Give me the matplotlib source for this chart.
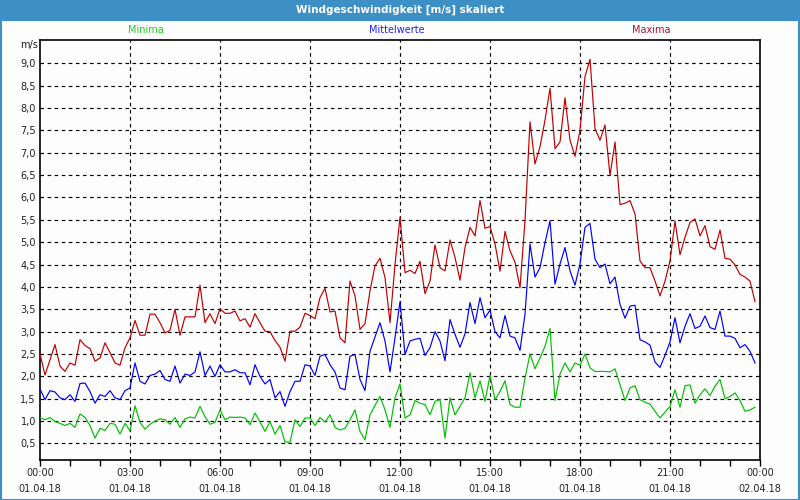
import numpy as np
import matplotlib
matplotlib.use("Agg")
import matplotlib.pyplot as plt
from matplotlib.patches import Rectangle
from matplotlib.ticker import FixedLocator

title = "Windgeschwindigkeit [m/s] skaliert"
series_names = ["Minima", "Mittelwerte", "Maxima"]
tick_hours = [0, 3, 6, 9, 12, 15, 18, 21, 24]
tick_times = ["00:00", "03:00", "06:00", "09:00", "12:00", "15:00", "18:00", "21:00", "00:00"]
tick_dates = ["01.04.18"] * 8 + ["02.04.18"]
y_ticks = [0.5, 1.0, 1.5, 2.0, 2.5, 3.0, 3.5, 4.0, 4.5, 5.0, 5.5, 6.0, 6.5, 7.0, 7.5, 8.0, 8.5, 9.0]

# 10-minute values, 00:00 .. 23:50
maxima = [2.5, 2.03, 2.37, 2.71, 2.23, 2.11, 2.3, 2.25, 2.82, 2.69, 2.62, 2.34, 2.41, 2.75, 2.53, 2.3, 2.25, 2.64,
          2.86, 3.25, 2.92, 2.92, 3.39, 3.39, 3.2, 2.97, 3.03, 3.5, 2.92, 3.33, 3.33, 3.33, 4.04, 3.2, 3.4, 3.18,
          3.51, 3.41, 3.41, 3.46, 3.24, 3.29, 3.1, 3.4, 3.2, 3.01, 3.0, 2.8, 2.65, 2.34, 3.01, 3.01, 3.1, 3.41,
          3.36, 3.29, 3.76, 3.97, 3.44, 3.46, 2.86, 2.75, 4.13, 3.8, 3.05, 3.18, 3.91, 4.47, 4.64, 4.21, 3.2, 4.5,
          5.56, 4.32, 4.37, 4.3, 4.57, 3.85, 4.13, 4.94, 4.43, 4.36, 5.05, 4.66, 4.15, 4.88, 5.33, 5.14, 5.93, 5.31,
          5.35, 4.96, 4.35, 5.24, 4.81, 4.55, 3.98, 5.48, 7.69, 6.75, 7.13, 7.73, 8.44, 7.09, 7.24, 8.23, 7.28, 6.92,
          7.5, 8.7, 9.09, 7.54, 7.28, 7.62, 6.49, 7.24, 5.84, 5.87, 5.93, 5.63, 4.58, 4.43, 4.43, 4.13, 3.8, 4.13,
          4.58, 5.47, 4.72, 5.11, 5.44, 5.52, 5.14, 5.37, 4.9, 4.84, 5.27, 4.64, 4.62, 4.49, 4.28, 4.22, 4.13, 3.67]
mittel = [1.72, 1.48, 1.68, 1.65, 1.52, 1.48, 1.59, 1.44, 1.84, 1.85, 1.66, 1.4, 1.59, 1.55, 1.68, 1.52, 1.48, 1.68,
          1.74, 2.3, 1.89, 1.83, 2.02, 2.05, 2.13, 1.93, 1.89, 2.23, 1.85, 2.05, 2.02, 2.1, 2.55, 2.02, 2.23, 2.0,
          2.26, 2.1, 2.1, 2.15, 2.08, 2.08, 1.81, 2.26, 2.0, 1.83, 1.93, 1.52, 1.66, 1.33, 1.66, 1.89, 1.89, 2.26,
          2.23, 2.02, 2.45, 2.49, 2.26, 2.1, 1.74, 1.7, 2.45, 2.49, 1.93, 1.68, 2.56, 2.88, 3.2, 2.79, 2.1, 2.86,
          3.67, 2.49, 2.79, 2.83, 2.85, 2.47, 2.64, 3.0, 2.79, 2.35, 3.27, 2.94, 2.65, 2.95, 3.65, 3.18, 3.76, 3.31,
          3.48, 3.0, 2.86, 3.36, 2.9, 2.86, 2.58, 3.39, 4.96, 4.22, 4.43, 4.99, 5.48, 4.06, 4.51, 4.88, 4.36, 4.04,
          4.51, 5.33, 5.42, 4.62, 4.43, 4.51, 4.07, 4.22, 3.61, 3.3, 3.57, 3.59, 2.82, 2.77, 2.7, 2.32, 2.2, 2.47,
          2.77, 3.31, 2.75, 3.12, 3.4, 3.07, 3.12, 3.35, 3.09, 3.05, 3.46, 2.9, 2.9, 2.85, 2.64, 2.71, 2.56, 2.3]
minima = [1.07, 1.03, 1.08, 0.99, 0.95, 0.9, 0.95, 0.86, 1.16, 1.08, 0.9, 0.62, 0.84, 0.79, 0.95, 0.93, 0.71, 0.95,
          0.78, 1.34, 0.97, 0.82, 0.93, 1.0, 1.05, 1.03, 0.93, 1.08, 0.86, 1.05, 1.09, 1.07, 1.33, 1.1, 0.93, 0.97,
          1.25, 1.03, 1.09, 1.08, 1.09, 1.07, 0.92, 1.18, 0.98, 0.77, 0.99, 0.71, 0.9, 0.53, 0.53, 1.03, 0.88, 1.07,
          1.07, 0.9, 1.08, 0.98, 1.14, 0.86, 0.8, 0.84, 1.03, 1.25, 0.77, 0.58, 1.14, 1.35, 1.55, 1.25, 0.86, 1.52,
          1.83, 1.07, 1.14, 1.46, 1.4, 1.37, 1.14, 1.44, 1.48, 0.62, 1.52, 1.14, 1.33, 1.52, 2.08, 1.52, 1.9, 1.44,
          2.02, 1.48, 1.66, 1.9, 1.37, 1.31, 1.31, 1.96, 2.5, 2.17, 2.41, 2.67, 3.07, 1.46, 2.05, 2.3, 2.1, 2.3,
          2.25, 2.5, 2.19, 2.11, 2.11, 2.11, 2.1, 2.17, 1.81, 1.46, 1.74, 1.79, 1.48, 1.42, 1.38, 1.22, 1.07, 1.2,
          1.33, 1.7, 1.31, 1.79, 1.81, 1.4, 1.59, 1.72, 1.57, 1.78, 1.93, 1.5, 1.55, 1.63, 1.46, 1.22, 1.25, 1.31]

hours = np.arange(len(maxima)) / 6.0

plt.rcParams['font.family'] = ['DejaVu Sans']
fig = plt.figure(figsize=(8, 5), dpi=100)
fig.patch.set_facecolor('#fdfdfd')

border = '#3c90c6'
# title bar
fig.patches.append(Rectangle((0, 1 - 21 / 500), 1, 21 / 500, transform=fig.transFigure,
                             facecolor=border, edgecolor='none', zorder=0))
# outer border
fig.patches.append(Rectangle((0.5 / 800, 0.5 / 500), 1 - 1.5 / 800, 1 - 1.5 / 500, transform=fig.transFigure,
                             facecolor='none', edgecolor=border, linewidth=1.5, zorder=1))
fig.text(0.5, 1 - 10 / 500, title, color='white', fontsize=7.5, fontweight='bold',
         ha='center', va='center')

ax = fig.add_axes([40 / 800, 40 / 500, 720 / 800, 420 / 500])
ax.set_facecolor('#fdfdfd')
ax.plot(hours, minima, color='#00c000', lw=0.85, zorder=3)
ax.plot(hours, mittel, color='#0000ff', lw=0.85, zorder=3)
ax.plot(hours, maxima, color='#c00000', lw=0.85, zorder=3)

ax.set_xlim(0, 24)
ax.set_ylim(0.13, 9.52)

ax.set_yticks(y_ticks)
ax.set_yticklabels([f"{v:.1f}".replace('.', ',') for v in y_ticks], fontsize=7, color='#222222')
ax.tick_params(axis='y', length=0, pad=3)

ax.set_xticks(tick_hours)
ax.set_xticklabels([f"{t}\n{d}" for t, d in zip(tick_times, tick_dates)], fontsize=7,
                   color='#222222', linespacing=1.75)
ax.xaxis.set_minor_locator(FixedLocator(np.arange(0, 25, 1)))
ax.tick_params(axis='x', which='major', length=4, width=1, pad=2, direction='out')
ax.tick_params(axis='x', which='minor', length=4, width=1, direction='out')

for v in y_ticks:
    ax.axhline(v, color='black', lw=0.85, ls=(0, (3, 3)), zorder=1)
for h in tick_hours[1:-1]:
    ax.axvline(h, color='black', lw=0.85, ls=(0, (3, 3)), zorder=1)

for s in ax.spines.values():
    s.set_color('black')
    s.set_linewidth(1.2)

fig.text(38 / 800, 1 - 45 / 500, "m/s", fontsize=7, color='#222222', ha='right', va='center')
fig.text(146 / 800, 1 - 30 / 500, series_names[0], fontsize=7, color='#22cc22', ha='center', va='center')
fig.text(397 / 800, 1 - 30 / 500, series_names[1], fontsize=7, color='#2222ee', ha='center', va='center')
fig.text(651 / 800, 1 - 30 / 500, series_names[2], fontsize=7, color='#b01030', ha='center', va='center')

fig.savefig("out.png", dpi=100, facecolor=fig.get_facecolor())
